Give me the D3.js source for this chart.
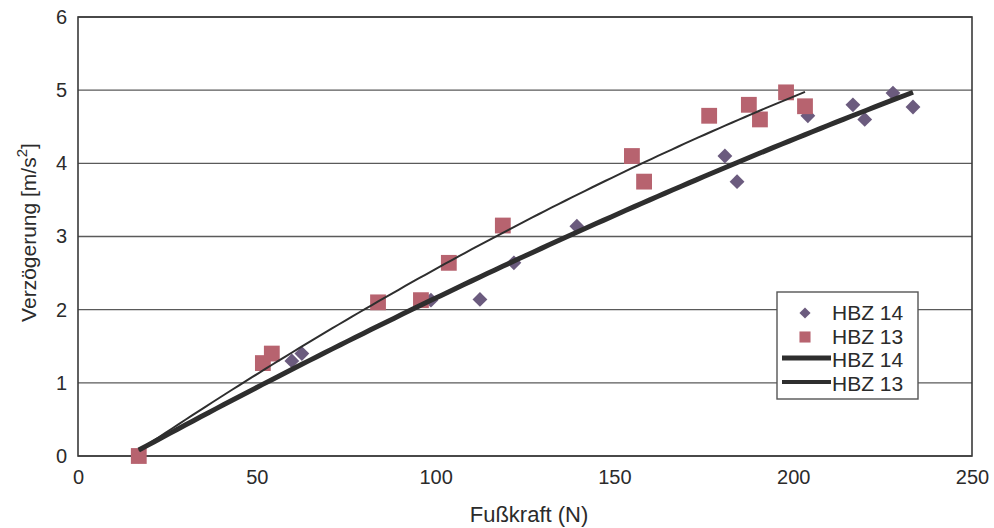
<!DOCTYPE html>
<html>
<head>
<meta charset="utf-8">
<script src="https://cdn.jsdelivr.net/npm/d3@7"></script>
<style>
  html, body { margin: 0; padding: 0; background: #fff; }
  svg { display: block; }
  text { font-family: "Liberation Sans", Arial, sans-serif; fill: #2b2b2b; }
</style>
</head>
<body>
<svg id="chart" width="994" height="528"></svg>
<script>
// Fußkraft (N) and Verzögerung (m/s²) measurements per brake booster
const hbz14Force = [17, 59.8, 62.6, 98.7, 112.4, 121.9, 139.5, 180.9, 184.3, 204.1, 216.7, 220, 227.9, 233.5];
const hbz14Decel = [0, 1.3, 1.4, 2.13, 2.14, 2.64, 3.14, 4.1, 3.75, 4.65, 4.8, 4.6, 4.96, 4.77];

const hbz13Force = [17, 51.7, 54.2, 83.9, 95.9, 103.7, 118.8, 154.9, 158.3, 176.5, 187.6, 190.7, 198, 203.3];
const hbz13Decel = [0, 1.27, 1.4, 2.1, 2.13, 2.64, 3.15, 4.1, 3.75, 4.65, 4.8, 4.6, 4.97, 4.78];

const xTicks = [0, 50, 100, 150, 200, 250];
const yTicks = [0, 1, 2, 3, 4, 5, 6];

const legendLabels = ["HBZ 14", "HBZ 13", "HBZ 14", "HBZ 13"];

const colDiamond = "#6b5b7e";
const colSquare = "#b7636f";
const colLine = "#2e2e2e";

const svg = d3.select("#chart");
const plot = { left: 78, top: 17, right: 972, bottom: 456 };

const x = d3.scaleLinear().domain([0, 250]).range([plot.left, plot.right]);
const y = d3.scaleLinear().domain([0, 6]).range([plot.bottom, plot.top]);

// horizontal gridlines
svg.append("g")
  .selectAll("line")
  .data(yTicks)
  .join("line")
  .attr("x1", plot.left).attr("x2", plot.right)
  .attr("y1", d => y(d)).attr("y2", d => y(d))
  .attr("stroke", "#5a5a5a").attr("stroke-width", 1.4);

// plot frame
svg.append("rect")
  .attr("x", plot.left).attr("y", plot.top)
  .attr("width", plot.right - plot.left).attr("height", plot.bottom - plot.top)
  .attr("fill", "none").attr("stroke", "#3a3a3a").attr("stroke-width", 1.6);

// axes (labels only, frame drawn above)
const xAxis = svg.append("g")
  .attr("transform", `translate(0,${plot.bottom})`)
  .call(d3.axisBottom(x).tickValues(xTicks).tickFormat(d3.format("d")).tickSize(0).tickPadding(14));
xAxis.select(".domain").remove();
xAxis.selectAll("text").attr("font-size", 20).attr("font-family", "Liberation Sans Narrow, Liberation Sans, Arial").style("fill", "#2b2b2b");

const yAxis = svg.append("g")
  .attr("transform", `translate(${plot.left},0)`)
  .call(d3.axisLeft(y).tickValues(yTicks).tickFormat(d3.format("d")).tickSize(0).tickPadding(11));
yAxis.select(".domain").remove();
yAxis.selectAll("text").attr("font-size", 20).attr("font-family", "Liberation Sans Narrow, Liberation Sans, Arial").style("fill", "#2b2b2b");

// axis titles
svg.append("text")
  .attr("x", (plot.left + plot.right) / 2 + 4).attr("y", 522)
  .attr("text-anchor", "middle")
  .attr("font-size", 22)
  .attr("font-family", "Liberation Sans Narrow, Liberation Sans, Arial")
  .text("Fußkraft (N)");

const yTitle = svg.append("text")
  .attr("transform", `translate(36,${(plot.top + plot.bottom) / 2 - 4}) rotate(-90)`)
  .attr("text-anchor", "middle")
  .attr("font-size", 21);
yTitle.append("tspan").text("Verzögerung [m/s");
yTitle.append("tspan").attr("dy", -9).attr("font-size", 15).text("2");
yTitle.append("tspan").attr("dy", 9).text("]");

// second-order least-squares trend line over the measured range
function quadFit(xs, ys) {
  let s = [0, 0, 0, 0, 0], t = [0, 0, 0];
  xs.forEach((xv, i) => {
    let p = 1;
    for (let k = 0; k < 5; k++) { s[k] += p; p *= xv; }
    t[0] += ys[i]; t[1] += ys[i] * xv; t[2] += ys[i] * xv * xv;
  });
  const A = [[s[0], s[1], s[2], t[0]], [s[1], s[2], s[3], t[1]], [s[2], s[3], s[4], t[2]]];
  for (let i = 0; i < 3; i++) {
    for (let j = i + 1; j < 3; j++) {
      const f = A[j][i] / A[i][i];
      for (let k = i; k < 4; k++) A[j][k] -= f * A[i][k];
    }
  }
  const c = [0, 0, 0];
  for (let i = 2; i >= 0; i--) {
    let v = A[i][3];
    for (let k = i + 1; k < 3; k++) v -= A[i][k] * c[k];
    c[i] = v / A[i][i];
  }
  return xv => c[0] + c[1] * xv + c[2] * xv * xv;
}

function trend(xs, ys, width) {
  const f = quadFit(xs, ys);
  const [lo, hi] = d3.extent(xs);
  const pts = d3.range(0, 101).map(i => lo + (hi - lo) * i / 100);
  svg.append("path")
    .datum(pts)
    .attr("fill", "none")
    .attr("stroke", colLine)
    .attr("stroke-width", width)
    .attr("d", d3.line().x(d => x(d)).y(d => y(f(d))));
}

const diamond = d3.symbol().type(d3.symbolSquare).size(110);
const square = d3.symbol().type(d3.symbolSquare).size(250);

// HBZ 14 diamonds
svg.append("g")
  .selectAll("path")
  .data(hbz14Force.map((f, i) => [f, hbz14Decel[i]]))
  .join("path")
  .attr("d", diamond)
  .attr("transform", d => `translate(${x(d[0])},${y(d[1])}) rotate(45)`)
  .attr("fill", colDiamond);

// HBZ 13 squares
svg.append("g")
  .selectAll("path")
  .data(hbz13Force.map((f, i) => [f, hbz13Decel[i]]))
  .join("path")
  .attr("d", square)
  .attr("transform", d => `translate(${x(d[0])},${y(d[1])})`)
  .attr("fill", colSquare);

trend(hbz14Force, hbz14Decel, 5);
trend(hbz13Force, hbz13Decel, 2);

// legend
const lg = svg.append("g");
lg.append("rect")
  .attr("x", 777).attr("y", 292).attr("width", 141).attr("height", 107)
  .attr("fill", "#fff").attr("stroke", "#555").attr("stroke-width", 1.4);

const rowY = [313, 337, 360, 384];
lg.append("path").attr("d", diamond)
  .attr("transform", `translate(805,${rowY[0]}) rotate(45) scale(0.75)`)
  .attr("fill", colDiamond);
lg.append("path").attr("d", square)
  .attr("transform", `translate(805,${rowY[1]}) scale(0.7)`).attr("fill", colSquare);
lg.append("line").attr("x1", 782).attr("x2", 831).attr("y1", rowY[2] - 2).attr("y2", rowY[2] - 2)
  .attr("stroke", colLine).attr("stroke-width", 5);
lg.append("line").attr("x1", 782).attr("x2", 831).attr("y1", rowY[3] - 2).attr("y2", rowY[3] - 2)
  .attr("stroke", colLine).attr("stroke-width", 4);

lg.selectAll("text.lbl")
  .data(legendLabels)
  .join("text")
  .attr("class", "lbl")
  .attr("x", 832)
  .attr("y", (d, i) => rowY[i] + 7)
  .attr("font-size", 21)
  .text(d => d);
</script>
</body>
</html>
